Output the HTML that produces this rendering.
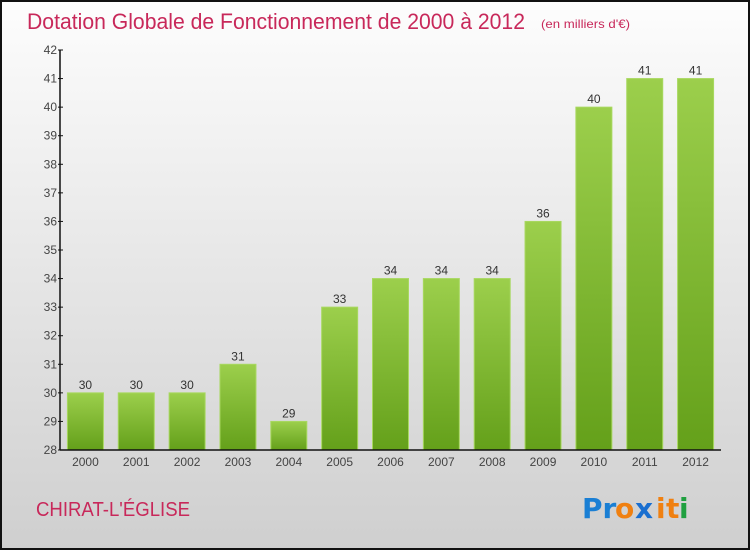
<!DOCTYPE html>
<html><head><meta charset="utf-8">
<style>
html,body{margin:0;padding:0;}
body{width:750px;height:550px;overflow:hidden;font-family:"Liberation Sans",sans-serif;}
</style></head>
<body>
<svg id="chart" width="750" height="550" xmlns="http://www.w3.org/2000/svg">
<defs>
<linearGradient id="bg" x1="0" y1="0" x2="0" y2="1">
<stop offset="0" stop-color="#fdfdfd"/><stop offset="1" stop-color="#cfcfcf"/>
</linearGradient>
<linearGradient id="barg" x1="0" y1="0" x2="0" y2="1">
<stop offset="0" stop-color="#9ccf4c"/><stop offset="1" stop-color="#64a01a"/>
</linearGradient>
</defs>
<rect x="1" y="1" width="748" height="548" fill="url(#bg)" stroke="#111" stroke-width="2"/>
<text x="27" y="29" font-size="22" fill="#c8285a" textLength="498" lengthAdjust="spacingAndGlyphs">Dotation Globale de Fonctionnement de 2000 à 2012</text>
<text x="541" y="28" font-size="12" fill="#c8285a" textLength="89" lengthAdjust="spacingAndGlyphs">(en milliers d'€)</text>
<g id="plot"></g>
<text x="36" y="516" font-size="20" fill="#c8285a" textLength="154" lengthAdjust="spacingAndGlyphs">CHIRAT-L'ÉGLISE</text>
<g font-size="28" font-weight="bold" font-family="'DejaVu Sans',sans-serif">
<text x="582" y="518" fill="#1a7fd4">Pr</text>
<text x="615" y="518" fill="#f08010">o</text>
<text x="635" y="518" fill="#1a6fd0">x</text>
<text x="656" y="518" fill="#f08010">i</text>
<text x="666" y="518" fill="#f08010">t</text>
<text x="679" y="518" fill="#20a040">i</text>
</g>
</svg>
<script>
const years = ["2000","2001","2002","2003","2004","2005","2006","2007","2008","2009","2010","2011","2012"];
const values = [30,30,30,31,29,33,34,34,34,36,40,41,41];
const yTicks = [28,29,30,31,32,33,34,35,36,37,38,39,40,41,42];

const NS = "http://www.w3.org/2000/svg";
const plot = document.getElementById("plot");
const X0 = 60, X1 = 721, Y0 = 450, Y1 = 50;
const yMin = 28, yMax = 42;
function yScale(v){ return Y0 - (v - yMin) / (yMax - yMin) * (Y0 - Y1); }
const step = (X1 - X0) / years.length;
function xCenter(i){ return X0 + step * (i + 0.5); }
const barW = 36;
function mk(tag, attrs){ const e = document.createElementNS(NS, tag); for (const k in attrs) e.setAttribute(k, attrs[k]); plot.appendChild(e); return e; }

yTicks.forEach(t => {
  const y = yScale(t);
  const tk = mk("line", {x1: X0 - 2, x2: X0 + 3, y1: y, y2: y, stroke: "#111"});
  
  
  const lb = mk("text", {x: X0 - 3, y: y + 4, "font-size": 12, fill: "#444", "text-anchor": "end"});
  lb.textContent = t;
  
  
});

values.forEach((v, i) => {
  const cx = xCenter(i), y = yScale(v);
  const r = mk("rect", {x: cx - barW/2, y: y, width: barW, height: Y0 - y, fill: "url(#barg)", stroke: "#a8d860", "stroke-width": 1});
  
  
  const vl = mk("text", {x: cx, y: y - 4, "font-size": 12, fill: "#333", "text-anchor": "middle"});
  vl.textContent = v;
  
  
  const xl = mk("text", {x: cx, y: Y0 + 16, "font-size": 12, fill: "#444", "text-anchor": "middle"});
  xl.textContent = years[i];
  
  
});

const ya = mk("line", {x1: X0, x2: X0, y1: Y1, y2: Y0, stroke: "#111", "stroke-width": 1.5});


const xa = mk("line", {x1: X0, x2: X1, y1: Y0, y2: Y0, stroke: "#111", "stroke-width": 1.5});


</script>
</body></html>
